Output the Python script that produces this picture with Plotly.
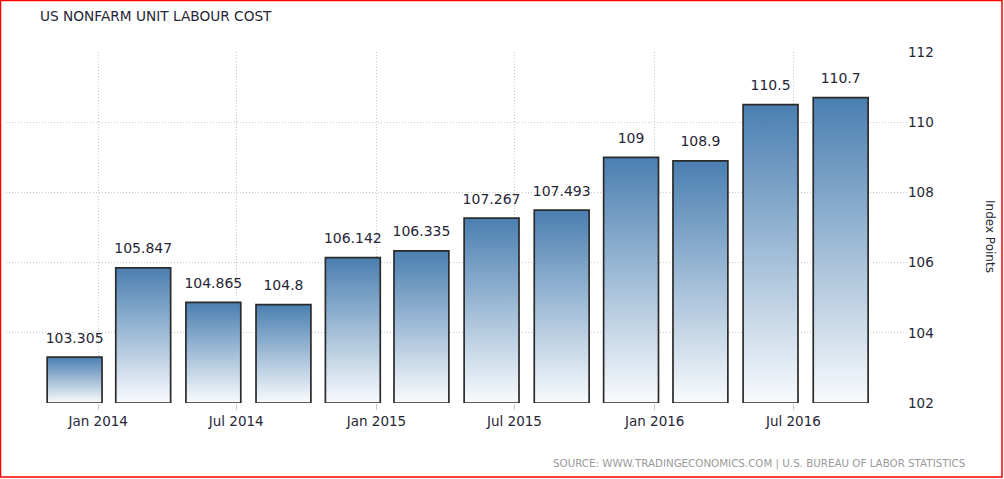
import plotly.graph_objects as go
import pandas as pd

# ---- data ----
dates = ["2013-12-01", "2014-03-01", "2014-06-01", "2014-09-01",
         "2014-12-01", "2015-03-01", "2015-06-01", "2015-09-01",
         "2015-12-01", "2016-03-01", "2016-06-01", "2016-09-01"]
values = [103.305, 105.847, 104.865, 104.8, 106.142, 106.335,
          107.267, 107.493, 109, 108.9, 110.5, 110.7]
labels = ["103.305", "105.847", "104.865", "104.8", "106.142", "106.335",
          "107.267", "107.493", "109", "108.9", "110.5", "110.7"]
y_base = 102
y_ticks = [102, 104, 106, 108, 110, 112]

W, H = 1004, 479
ML, MR, MT, MB = 6, 97, 52, 76

FONT = "DejaVu Sans"
TXT = "#262636"
half = pd.Timedelta(days=36)

fig = go.Figure()
for d, v in zip(dates, values):
    c = pd.Timestamp(d)
    x0, x1 = c - half, c + half
    fig.add_trace(go.Scatter(
        x=[x0, x1, x1, x0, x0], y=[y_base, y_base, v, v, y_base],
        mode="lines", fill="toself",
        fillgradient=dict(type="vertical",
                          colorscale=[[0, "#f9fbfd"], [1, "#4a7fb1"]]),
        line=dict(color="#2b2b2b", width=1.7),
        hoverinfo="skip", showlegend=False))

fig.add_trace(go.Scatter(
    x=pd.to_datetime(dates), y=values, mode="markers+text", text=labels,
    textposition="top center",
    marker=dict(size=16, opacity=0),
    textfont=dict(family=FONT, size=14, color=TXT),
    showlegend=False, hoverinfo="skip"))

GRID = dict(showgrid=True, gridcolor="#c8c8c8", griddash="1px,2px", gridwidth=1)

fig.update_layout(
    width=W, height=H, margin=dict(l=ML, r=MR, t=MT, b=MB),
    paper_bgcolor="white", plot_bgcolor="white",
    font=dict(family=FONT, color=TXT),
    xaxis=dict(type="date", range=["2013-09-02", "2016-11-27"],
               tick0="2014-01-01", dtick="M6", tickformat="%b %Y",
               ticks="outside", ticklen=6, tickcolor="#c8c8c8",
               tickfont=dict(family=FONT, size=13.5, color=TXT),
               showline=False, zeroline=False, **GRID),
    yaxis=dict(range=[102, 112], tickvals=y_ticks, side="right",
               tickfont=dict(family=FONT, size=13.5, color=TXT),
               ticks="", showline=False, zeroline=False, **GRID),
    annotations=[
        dict(text="US NONFARM UNIT LABOUR COST", xref="paper", yref="paper",
             x=(38 - ML) / (W - ML - MR), y=1 + (MT - 16) / (H - MT - MB),
             xanchor="left", yanchor="middle", showarrow=False,
             font=dict(family=FONT, size=13.7, color=TXT)),
        dict(text="Index Points", xref="paper", yref="paper",
             x=1 + (990 - (W - MR)) / (W - ML - MR), y=(H - MB - 236) / (H - MT - MB),
             xanchor="center", yanchor="middle", textangle=90, showarrow=False,
             font=dict(family=FONT, size=12, color=TXT)),
        dict(text="SOURCE: WWW.TRADINGECONOMICS.COM | U.S. BUREAU OF LABOR STATISTICS",
             xref="paper", yref="paper",
             x=1 + (967 - (W - MR)) / (W - ML - MR), y=-(463 - (H - MB)) / (H - MT - MB),
             xanchor="right", yanchor="middle", showarrow=False,
             font=dict(family=FONT, size=10.3, color="#9a9a9a")),
    ],
    shapes=[dict(type="rect", xref="paper", yref="paper",
                 x0=(0.5 - ML) / (W - ML - MR), x1=1 + (1002 - (W - MR)) / (W - ML - MR),
                 y0=-(477 - (H - MB)) / (H - MT - MB), y1=1 + (MT - 0.5) / (H - MT - MB),
                 line=dict(color="red", width=1.5), layer="above")],
)

fig.write_html("out.html", config={"displayModeBar": False},
               post_script="document.body.style.margin='0';")
